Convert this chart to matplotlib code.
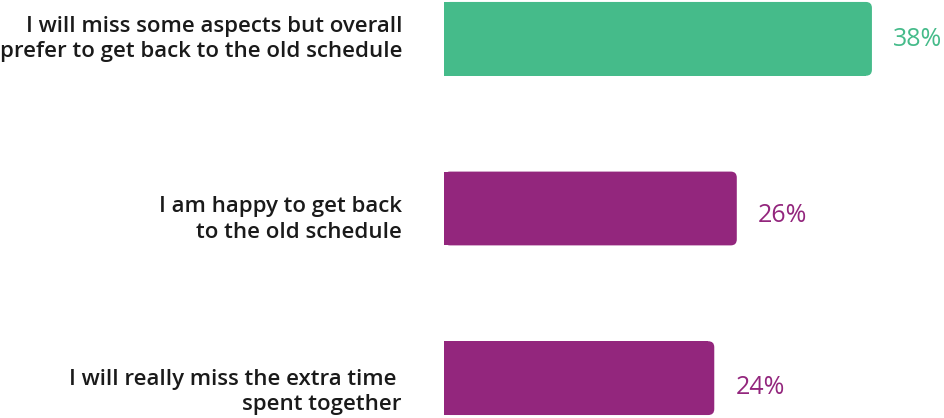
import matplotlib
matplotlib.use("Agg")
import matplotlib.pyplot as plt
from matplotlib.patches import FancyBboxPatch
from matplotlib.transforms import offset_copy

labels = [
    "I will miss some aspects but overall\nprefer to get back to the old schedule",
    "I am happy to get back\nto the old schedule",
    "I will really miss the extra time \nspent together",
]
values = [38, 26, 24]
colors = ["#45BB8A", "#93267D", "#93267D"]

# small nudges (in points) for where the labels sit relative to each bar
label_dy = [0, -8, -10]
value_dy = [-0.5, -5, -7]

plt.rcParams["font.family"] = ["Open Sans", "DejaVu Sans"]

fig = plt.figure(figsize=(9.44, 4.18), dpi=100)
ax = fig.add_axes([444 / 944, 0, 500 / 944, 1])

ypos = list(range(len(values)))
bar_h = 0.435
radius_px = 6

ax.set_xlim(0, 44.4)
ax.set_ylim(2.235, -0.229)
ax.axis("off")

# px -> data conversions for the rounded right end
x_per_px = 44.4 / 500
y_per_px = (2.235 + 0.229) / 418
rx = radius_px * x_per_px
ry = radius_px * y_per_px

bars = ax.barh(ypos, [v - rx for v in values], height=bar_h, color=colors, linewidth=0)
for b, v, c in zip(bars, values, colors):
    patch = FancyBboxPatch(
        (0, b.get_y()), v, b.get_height(),
        boxstyle=f"round,pad=0,rounding_size={rx}",
        mutation_aspect=ry / rx,
        facecolor=c, edgecolor="none",
    )
    ax.add_patch(patch)

for y, lab, dy in zip(ypos, labels, label_dy):
    ax.text(0, y, lab, transform=offset_copy(ax.transData, fig=fig, x=-42 * 0.72, y=dy, units="points"),
            ha="right", va="center", fontsize=16, fontweight="semibold",
            color="#1a1a1a", linespacing=1.27, clip_on=False)

for y, v, c, dy in zip(ypos, values, colors, value_dy):
    ax.text(v, y, f"{v}%", transform=offset_copy(ax.transData, fig=fig, x=21 * 0.72, y=dy, units="points"),
            ha="left", va="center", fontsize=18, color=c, clip_on=False)

fig.savefig("out.png", dpi=100)
